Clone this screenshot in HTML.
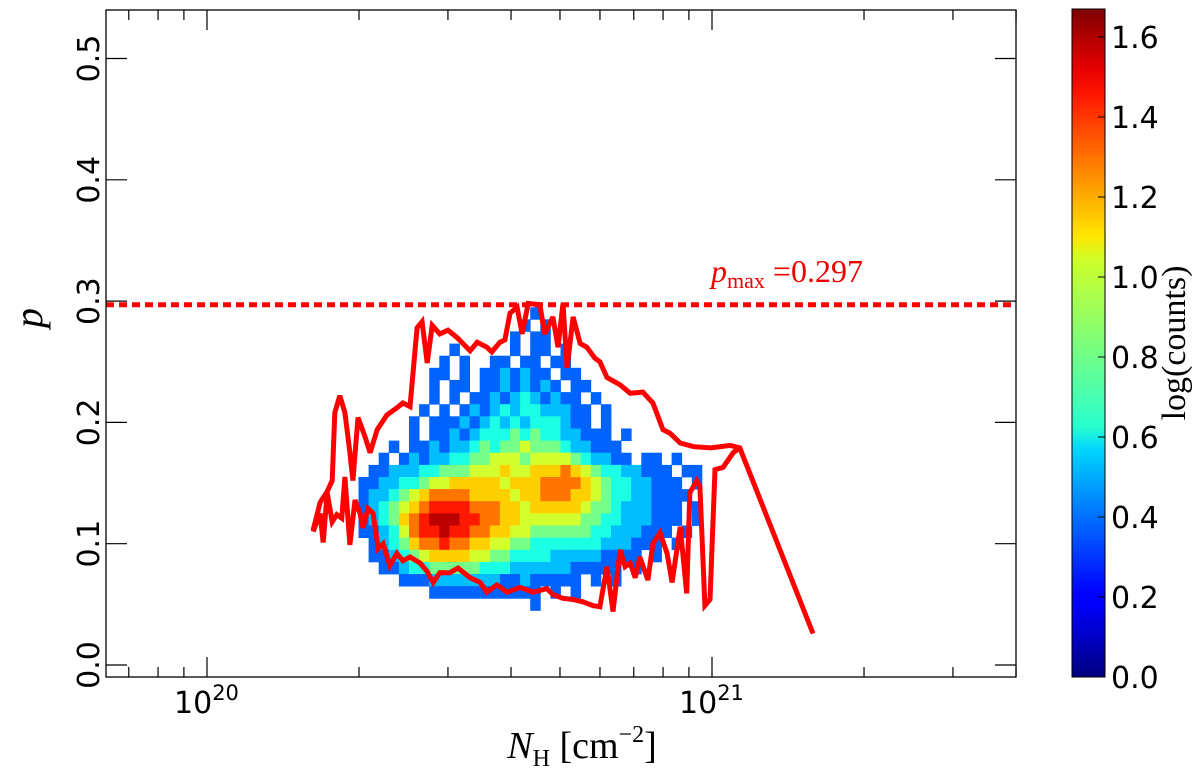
<!DOCTYPE html>
<html><head><meta charset="utf-8"><style>
body{margin:0;background:#fff;}
svg{display:block;font-family:"DejaVu Sans","Liberation Sans",sans-serif;}
</style></head><body>
<svg id="chart" width="1200" height="769" viewBox="0 0 1200 769" xmlns="http://www.w3.org/2000/svg">
<defs>
<linearGradient id="jetgrad" x1="0" y1="1" x2="0" y2="0">
<stop offset="0" stop-color="#00007f"/><stop offset="0.11" stop-color="#0000ff"/><stop offset="0.125" stop-color="#0000ff"/>
<stop offset="0.34" stop-color="#00d4ff"/><stop offset="0.375" stop-color="#29ffce"/><stop offset="0.5" stop-color="#7dff7a"/>
<stop offset="0.625" stop-color="#ceff29"/><stop offset="0.66" stop-color="#ffe600"/><stop offset="0.875" stop-color="#ff1300"/>
<stop offset="0.91" stop-color="#e80000"/><stop offset="1" stop-color="#7f0000"/>
</linearGradient>
<clipPath id="plotclip"><rect x="106" y="10" width="910" height="667"/></clipPath>
</defs>
<g id="heat" clip-path="url(#plotclip)"></g>
<g id="lines" clip-path="url(#plotclip)"></g>
<g id="axes"></g>
<rect x="106" y="10" width="910" height="667" fill="none" stroke="#000" stroke-width="1.3"/>
<text x="711" y="282" fill="#e00" font-family="Liberation Serif,serif" font-size="32"><tspan font-style="italic">p</tspan><tspan font-size="22" dy="6">max</tspan><tspan dy="-6"> =0.297</tspan></text>
<text transform="translate(42,318) rotate(-90)" text-anchor="middle" font-family="Liberation Serif,serif" font-style="italic" font-size="40">p</text>
<text x="582" y="758" text-anchor="middle" font-family="Liberation Serif,serif" font-size="38"><tspan font-style="italic">N</tspan><tspan font-size="24" dy="8">H</tspan><tspan dy="-8"> [cm</tspan><tspan font-size="24" dy="-16">−2</tspan><tspan dy="16">]</tspan></text>
<rect x="1072" y="9" width="33" height="668" fill="url(#jetgrad)" stroke="#000" stroke-width="1"/>
<g id="cbar"></g>
<text transform="translate(1185,343) rotate(-90)" text-anchor="middle" font-family="Liberation Serif,serif" font-size="34">log(counts)</text>
</svg>
<script>
const heatLogStart = 20.30, heatLogStep = 0.02, heatPStep = 0.01;
const heatRowP = [0.29,0.28,0.27,0.26,0.25,0.24,0.23,0.22,0.21,0.20,0.19,0.18,0.17,0.16,0.15,0.14,0.13,0.12,0.11,0.10,0.09,0.08,0.07,0.06,0.05];
const heatRows = [
"000000000000000001",
"0000000000000000101",
"00000000000000010110",
"0000000001000001011010",
"00000000101001101101100",
"0000000110101121211011",
"000000010110112121210110",
"0000000101011212321211010",
"0000001010121232332221101",
"00000101112123232333211010",
"000001011212333434332211101",
"0001011212234344544432211100",
"00101212233445554555543221101101",
"0112223344455565566676543322111011",
"1122334556666656667777654332211101",
"1223456777766665667776654332211110",
"1234567888877766566666544322211101",
"1234678999887766555555443322211101",
"1123578898877665544444433222111010",
"0123467787766554433333332221110100",
"0112345666655443333222221111010",
"00112334444433322222211111010",
"000011122222221121111101010",
"0000000111111111110101",
"000000000000000001"];
const upperLogN = [20.210,20.224,20.238,20.248,20.253,20.263,20.273,20.283,20.289,20.299,20.313,20.323,20.337,20.356,20.376,20.388,20.402,20.416,20.426,20.436,20.446,20.461,20.477,20.495,20.521,20.535,20.554,20.564,20.580,20.590,20.600,20.614,20.624,20.636,20.659,20.669,20.685,20.695,20.705,20.713,20.725,20.739,20.752,20.768,20.778,20.792,20.818,20.838,20.863,20.883,20.903,20.917,20.937,20.964,20.998,21.036,21.055,21.200];
const upperP = [.111,.134,.143,.152,.208,.222,.208,.175,.152,.204,.188,.175,.194,.206,.212,.216,.213,.278,.283,.249,.280,.273,.276,.270,.259,.266,.262,.258,.266,.268,.290,.295,.273,.298,.297,.273,.287,.262,.298,.245,.287,.265,.262,.253,.250,.237,.231,.224,.225,.216,.194,.191,.183,.180,.179,.181,.179,.026];
const lowerLogN = [20.210,20.224,20.230,20.238,20.248,20.257,20.267,20.273,20.283,20.293,20.303,20.309,20.319,20.329,20.339,20.349,20.362,20.376,20.388,20.402,20.422,20.436,20.448,20.461,20.481,20.497,20.521,20.541,20.554,20.574,20.594,20.620,20.646,20.673,20.685,20.705,20.725,20.745,20.764,20.778,20.792,20.804,20.818,20.828,20.838,20.848,20.857,20.873,20.883,20.897,20.911,20.921,20.937,20.950,20.956,20.970,20.976,20.986,20.996,21.006,21.022,21.042,21.055];
const lowerP = [.110,.125,.101,.142,.118,.124,.121,.155,.099,.136,.125,.113,.129,.125,.096,.100,.082,.092,.086,.089,.084,.077,.068,.076,.076,.080,.072,.068,.060,.066,.060,.064,.060,.063,.058,.055,.054,.052,.049,.048,.081,.044,.095,.081,.084,.072,.089,.070,.100,.109,.092,.068,.114,.059,.142,.152,.147,.049,.054,.161,.163,.175,.179];
const pMax = 0.297;
const yTicks = [0.0,0.1,0.2,0.3,0.4,0.5];
const yTickLabels = ["0.0","0.1","0.2","0.3","0.4","0.5"];
const xMajorLog = [20,21];
const xMajorExp = ["20","21"];
const xMinorVals = [7e19,8e19,9e19,2e20,3e20,4e20,5e20,6e20,7e20,8e20,9e20,2e21,3e21,4e21];
const cbTicks = [0.0,0.2,0.4,0.6,0.8,1.0,1.2,1.4,1.6];
const cbTickLabels = ["0.0","0.2","0.4","0.6","0.8","1.0","1.2","1.4","1.6"];
const cbMax = 1.67;

const NS="http://www.w3.org/2000/svg";
function X(logn){return 207+505*(logn-20);}
function Y(p){return 665-1213*p;}
function CY(v){return 677-668*v/cbMax;}
function jet(t){
  t=Math.max(0,Math.min(1,t));
  const r=Math.max(0,Math.min(1,Math.min(4*t-1.5,-4*t+4.5)));
  const g=Math.max(0,Math.min(1,Math.min(4*t-0.5,-4*t+3.5)));
  const b=Math.max(0,Math.min(1,Math.min(4*t+0.5,-4*t+2.5)));
  return `rgb(${Math.round(r*255)},${Math.round(g*255)},${Math.round(b*255)})`;
}
function mk(tag,attrs,parent){const e=document.createElementNS(NS,tag);for(const k in attrs)e.setAttribute(k,attrs[k]);parent.appendChild(e);return e;}

const heat=document.getElementById('heat');
heatRows.forEach((row,ri)=>{
  const p=heatRowP[ri];
  for(let ci=0;ci<row.length;ci++){
    const d=+row[ci]; if(!d) continue;
    const l=heatLogStart+ci*heatLogStep;
    const x0=X(l), x1=X(l+heatLogStep), y0=Y(p+heatPStep/2), y1=Y(p-heatPStep/2);
    const v=0.22+d*0.15;
    const r=mk('rect',{x:x0.toFixed(1),y:y0.toFixed(1),width:(x1-x0+0.4).toFixed(1),height:(y1-y0+0.4).toFixed(1),fill:jet(v/cbMax)},heat);
    
    
  }
});

const lines=document.getElementById('lines');
function poly(xs,ys,name){
  const pts=xs.map((l,i)=>X(l).toFixed(1)+','+Y(ys[i]).toFixed(1)).join(' ');
  const e=mk('polyline',{points:pts,fill:'none',stroke:'#f00','stroke-width':5,'stroke-linejoin':'miter','stroke-miterlimit':3},lines);
  
  
}
poly(upperLogN,upperP,'upper-envelope');
poly(lowerLogN,lowerP,'lower-envelope');
const dl=mk('line',{x1:106,x2:1016,y1:Y(pMax),y2:Y(pMax),stroke:'#f00','stroke-width':5,'stroke-dasharray':'8 5'},lines);



const axes=document.getElementById('axes');
yTicks.forEach((v,i)=>{
  const y=Y(v);
  mk('line',{x1:106,x2:127,y1:y,y2:y,stroke:'#000','stroke-width':1.2},axes);
  mk('line',{x1:995,x2:1016,y1:y,y2:y,stroke:'#000','stroke-width':1.2},axes);
  const t=mk('text',{transform:`translate(99,${y}) rotate(-90)`,'text-anchor':'middle','font-size':30},axes);
  t.textContent=yTickLabels[i];
  
  
});
xMajorLog.forEach((l,i)=>{
  const x=X(l);
  mk('line',{x1:x,x2:x,y1:677,y2:657,stroke:'#000','stroke-width':1.2},axes);
  mk('line',{x1:x,x2:x,y1:10,y2:30,stroke:'#000','stroke-width':1.2},axes);
  const t=mk('text',{x:x-33,y:713,'font-size':30},axes);
  t.innerHTML='10<tspan font-size="21" dy="-13">'+xMajorExp[i]+'</tspan>';
  
  
});
xMinorVals.forEach(v=>{
  const x=X(Math.log10(v));
  mk('line',{x1:x,x2:x,y1:677,y2:667,stroke:'#000','stroke-width':1.2},axes);
  mk('line',{x1:x,x2:x,y1:10,y2:20,stroke:'#000','stroke-width':1.2},axes);
});

const cbar=document.getElementById('cbar');
cbTicks.forEach((v,i)=>{
  const y=CY(v);
  mk('line',{x1:1098,x2:1105,y1:y,y2:y,stroke:'#000','stroke-width':1},cbar);
  const t=mk('text',{x:1111,y:y+11,'font-size':30},cbar);
  t.textContent=cbTickLabels[i];
  
  
});
</script>
</body></html>
